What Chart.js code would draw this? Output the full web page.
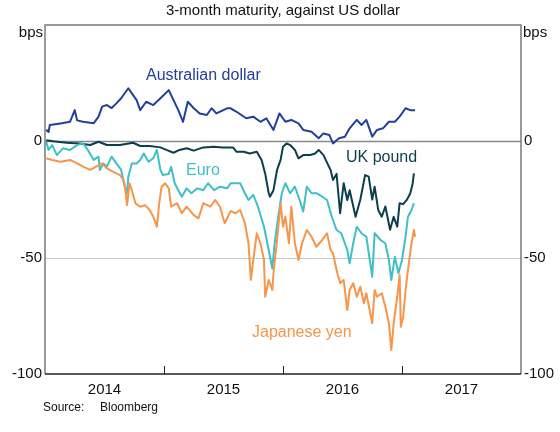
<!DOCTYPE html>
<html>
<head>
<meta charset="utf-8">
<script src="https://cdn.jsdelivr.net/npm/chart.js@4/dist/chart.umd.min.js"></script>
<style>
  body { margin: 0; background: #fff; }
  #wrap { width: 560px; height: 432px; }
</style>
</head>
<body>
<div id="wrap"><canvas id="myChart" width="560" height="432"></canvas></div>
<script>
// decimal years / basis points
const audX = [2014.01, 2014.03, 2014.04, 2014.13, 2014.21, 2014.25, 2014.27, 2014.32, 2014.41, 2014.45, 2014.48, 2014.52, 2014.56, 2014.60, 2014.64, 2014.70, 2014.73, 2014.77, 2014.80, 2014.85, 2014.91, 2014.97, 2015.04, 2015.08, 2015.12, 2015.16, 2015.20, 2015.25, 2015.30, 2015.36, 2015.40, 2015.44, 2015.53, 2015.56, 2015.61, 2015.69, 2015.75, 2015.81, 2015.86, 2015.92, 2015.97, 2016.02, 2016.07, 2016.13, 2016.17, 2016.24, 2016.30, 2016.34, 2016.39, 2016.42, 2016.47, 2016.52, 2016.56, 2016.62, 2016.66, 2016.70, 2016.75, 2016.79, 2016.84, 2016.89, 2016.94, 2016.98, 2017.03, 2017.07, 2017.11];
const audY = [5, 4, 7, 7.7, 8.4, 13.4, 9, 8.4, 7.8, 10.6, 14.9, 15.6, 14.3, 16.3, 18.5, 22.8, 20.6, 17.7, 13.4, 17, 15.6, 18.5, 22, 17.7, 13.4, 8.4, 17, 14.2, 12, 11.3, 14.2, 12, 14.2, 14.2, 12.7, 9.9, 10.6, 8.4, 9.9, 4.9, 12, 8.4, 9.2, 7.7, 4.9, 4.1, 1.3, 3.4, 2.7, -0.9, 1.3, 2, 5.6, 9.2, 7, 9.2, 2, 4.9, 5.6, 8.4, 8.4, 10.6, 14.2, 13.4, 13.4];

const gbpX = [2014.01, 2014.07, 2014.18, 2014.29, 2014.38, 2014.45, 2014.52, 2014.63, 2014.74, 2014.80, 2014.88, 2014.97, 2015.02, 2015.08, 2015.13, 2015.19, 2015.25, 2015.33, 2015.42, 2015.49, 2015.58, 2015.61, 2015.67, 2015.72, 2015.78, 2015.82, 2015.85, 2015.88, 2015.89, 2015.92, 2015.95, 2015.98, 2016.00, 2016.03, 2016.06, 2016.10, 2016.13, 2016.17, 2016.23, 2016.27, 2016.30, 2016.34, 2016.38, 2016.40, 2016.42, 2016.45, 2016.48, 2016.51, 2016.54, 2016.56, 2016.61, 2016.65, 2016.69, 2016.72, 2016.75, 2016.77, 2016.80, 2016.83, 2016.86, 2016.90, 2016.93, 2016.96, 2016.98, 2017.01, 2017.04, 2017.07, 2017.09, 2017.10];
const gbpY = [0.5, 0, -0.6, -0.9, -1.6, -0.2, -1.6, -1.6, -0.6, -2, -2, -2.6, -3.7, -4.9, -3.7, -3, -4, -2.6, -2.3, -2.6, -2.6, -4.5, -4.5, -5.2, -4.5, -8, -13.8, -22.3, -23.8, -21, -12.3, -8, -2.3, -0.9, -1.6, -3.7, -7.3, -5.9, -5.9, -5.2, -3.7, -5.9, -10.2, -12.3, -16.6, -14, -30.9, -18, -25.2, -21, -32.4, -25, -14.5, -15.2, -25, -19.5, -29.5, -32.4, -28, -38, -32.4, -36.7, -26.6, -27, -25.2, -22.3, -18, -13.8];

const eurX = [2014.01, 2014.03, 2014.06, 2014.10, 2014.15, 2014.21, 2014.27, 2014.32, 2014.36, 2014.41, 2014.45, 2014.46, 2014.49, 2014.52, 2014.56, 2014.60, 2014.64, 2014.67, 2014.69, 2014.70, 2014.73, 2014.77, 2014.80, 2014.83, 2014.87, 2014.91, 2014.94, 2014.97, 2014.99, 2015.04, 2015.06, 2015.09, 2015.12, 2015.15, 2015.19, 2015.23, 2015.28, 2015.33, 2015.37, 2015.42, 2015.47, 2015.53, 2015.56, 2015.64, 2015.68, 2015.71, 2015.75, 2015.79, 2015.84, 2015.88, 2015.91, 2015.93, 2015.96, 2015.99, 2016.02, 2016.06, 2016.10, 2016.14, 2016.17, 2016.20, 2016.24, 2016.28, 2016.33, 2016.37, 2016.41, 2016.45, 2016.49, 2016.54, 2016.56, 2016.59, 2016.62, 2016.66, 2016.70, 2016.75, 2016.77, 2016.82, 2016.86, 2016.89, 2016.91, 2016.94, 2016.97, 2017.00, 2017.03, 2017.05, 2017.08, 2017.10];
const eurY = [-0.2, -3.7, -1.6, -5.9, -3, -3.7, -1.6, -0.9, -3.7, -8, -6.6, -12.3, -9.5, -10.9, -6.6, -9.5, -12.3, -19.5, -22.3, -15.2, -9.5, -9.5, -8, -5.2, -8.8, -7.3, -3.7, -12.3, -14.5, -14, -10.9, -18, -21, -23.8, -20.2, -22.3, -20.2, -21, -18, -21, -19.5, -20.2, -18, -18, -22.3, -25.2, -23, -28.1, -36.7, -46.7, -54.6, -43.8, -32.4, -22.3, -18, -22.3, -19.5, -25.2, -30.2, -19.5, -22.3, -22.3, -23.8, -25.2, -32.4, -38.1, -39.5, -46.7, -52.4, -43.8, -36.7, -39.5, -41, -58.2, -39.5, -42.4, -43.8, -51, -59.6, -49.6, -56.7, -51, -41, -32.4, -29.5, -26.6];

const jpyX = [2014.01, 2014.06, 2014.13, 2014.21, 2014.27, 2014.32, 2014.38, 2014.43, 2014.48, 2014.52, 2014.57, 2014.63, 2014.66, 2014.67, 2014.69, 2014.71, 2014.73, 2014.76, 2014.80, 2014.84, 2014.88, 2014.91, 2014.94, 2014.96, 2014.98, 2015.01, 2015.04, 2015.06, 2015.11, 2015.15, 2015.19, 2015.25, 2015.29, 2015.33, 2015.39, 2015.43, 2015.47, 2015.51, 2015.56, 2015.60, 2015.64, 2015.68, 2015.71, 2015.73, 2015.75, 2015.78, 2015.81, 2015.84, 2015.85, 2015.88, 2015.91, 2015.92, 2015.95, 2015.98, 2016.00, 2016.02, 2016.05, 2016.07, 2016.10, 2016.13, 2016.16, 2016.20, 2016.24, 2016.28, 2016.33, 2016.37, 2016.40, 2016.42, 2016.45, 2016.48, 2016.51, 2016.54, 2016.56, 2016.59, 2016.62, 2016.65, 2016.68, 2016.70, 2016.75, 2016.77, 2016.79, 2016.83, 2016.86, 2016.89, 2016.91, 2016.93, 2016.96, 2016.98, 2016.99, 2017.01, 2017.03, 2017.05, 2017.08, 2017.10, 2017.11];
const jpyY = [-7.3, -8, -8.8, -8, -9.5, -10.9, -12.3, -10.9, -9.5, -11.6, -13, -14.5, -16.6, -18.8, -27.4, -18, -21, -26.6, -28.1, -27.4, -29.5, -32.4, -36.7, -26.6, -19.5, -18, -20.2, -28.1, -26.6, -30.9, -28.1, -31.7, -33.1, -26.6, -28.1, -25.2, -28.1, -35.2, -30, -30.9, -29.5, -35.2, -43.8, -59.6, -51, -39.5, -43.8, -51, -66.8, -59.6, -63.9, -56.7, -42.4, -26.6, -36.7, -32.4, -43.8, -28.1, -43.8, -51, -43.8, -38.1, -41, -45.3, -42.4, -39.5, -46.7, -48.1, -55.3, -61, -59.6, -72.5, -63.9, -61, -66.8, -62.5, -69.6, -65.3, -78.2, -63.9, -66.8, -65.3, -71.1, -78.2, -89.7, -78.2, -66.8, -57.5, -79.7, -75.4, -63.9, -55.3, -43.8, -38.1, -41];

const yTicks = [0, -50, -100];
const yearTicks = [2015, 2016, 2017];
const yearLabels = ['2014', '2015', '2016', '2017'];

const FONT = '"Liberation Sans", Arial, sans-serif';

function pts(xs, ys) {
  return xs.map((x, i) => ({ x: x, y: ys[i] }));
}

const decor = {
  id: 'decor',
  beforeDatasetsDraw(chart) {
    const { ctx, chartArea: a, scales: { x, y } } = chart;
    ctx.save();
    ctx.lineWidth = 1;
    yTicks.forEach(v => {
      if (v === -100) return;
      const py = Math.round(y.getPixelForValue(v)) + 0.5;
      ctx.strokeStyle = v === 0 ? '#8a8a8a' : '#c8c8c8';
      ctx.lineWidth = v === 0 ? 1.5 : 1;
      ctx.beginPath();
      ctx.moveTo(a.left, py);
      ctx.lineTo(a.right, py);
      ctx.stroke();
    });
    ctx.restore();
  },
  afterDatasetsDraw(chart) {
    const { ctx, chartArea: a, scales: { x, y } } = chart;
    ctx.save();
    // frame
    ctx.strokeStyle = '#7a7a7a';
    ctx.lineWidth = 1.5;
    ctx.beginPath();
    ctx.moveTo(a.left, a.bottom);
    ctx.lineTo(a.left, a.top);
    ctx.lineTo(a.right, a.top);
    ctx.lineTo(a.right, a.bottom);
    ctx.stroke();
    ctx.strokeStyle = '#222';
    ctx.beginPath();
    ctx.moveTo(a.left, a.bottom);
    ctx.lineTo(a.right, a.bottom);
    ctx.stroke();
    // year ticks
    ctx.lineWidth = 1;
    yearTicks.forEach(t => {
      const px = Math.round(x.getPixelForValue(t)) + 0.5;
      ctx.beginPath();
      ctx.moveTo(px, a.bottom);
      ctx.lineTo(px, a.bottom - 8);
      ctx.stroke();
    });

    ctx.fillStyle = '#111';
    ctx.font = '15px ' + FONT;
    ctx.textBaseline = 'middle';
    yTicks.forEach(v => {
      const py = y.getPixelForValue(v);
      ctx.textAlign = 'right';
      ctx.fillText(String(v), a.left - 3, py);
      ctx.textAlign = 'left';
      ctx.fillText(String(v), a.right + 3, py);
    });
    ctx.textAlign = 'right';
    ctx.fillText('bps', a.left - 2, a.top + 8);
    ctx.textAlign = 'left';
    ctx.fillText('bps', a.right + 2, a.top + 8);

    ctx.textAlign = 'center';
    yearLabels.forEach((lab, i) => {
      const px = x.getPixelForValue(Number(lab) + 0.5);
      ctx.fillText(lab, px, a.bottom + 16);
    });

    ctx.textAlign = 'center';
    ctx.fillText('3-month maturity, against US dollar', (a.left + a.right) / 2, 11);

    ctx.font = '12px ' + FONT;
    ctx.textAlign = 'left';
    ctx.fillText('Source:', 43, 408);
    ctx.fillText('Bloomberg', 100, 408);

    // series labels
    ctx.font = '16px ' + FONT;
    ctx.fillStyle = '#22409a';
    ctx.fillText('Australian dollar', 146, 76);
    ctx.fillStyle = '#0b3f4d';
    ctx.fillText('UK pound', 346, 158);
    ctx.fillStyle = '#3fbfc8';
    ctx.fillText('Euro', 186, 171);
    ctx.fillStyle = '#f7954a';
    ctx.fillText('Japanese yen', 252, 333);
    ctx.restore();
  }
};

new Chart(document.getElementById('myChart'), {
  type: 'line',
  data: {
    datasets: [
      { label: 'Japanese yen', data: pts(jpyX, jpyY), borderColor: '#f7954a' },
      { label: 'Euro', data: pts(eurX, eurY), borderColor: '#3fbfc8' },
      { label: 'UK pound', data: pts(gbpX, gbpY), borderColor: '#0b3f4d' },
      { label: 'Australian dollar', data: pts(audX, audY), borderColor: '#22409a' }
    ]
  },
  options: {
    responsive: false,
    animation: false,
    devicePixelRatio: 1,
    layout: { padding: { left: 45, right: 39, top: 25, bottom: 58 } },
    elements: {
      point: { radius: 0 },
      line: { borderWidth: 2, tension: 0, borderJoinStyle: 'round' }
    },
    plugins: { legend: { display: false }, tooltip: { enabled: false } },
    scales: {
      x: { type: 'linear', min: 2014, max: 2018, display: false },
      y: { min: -100, max: 50, display: false }
    }
  },
  plugins: [decor]
});
</script>
</body>
</html>
